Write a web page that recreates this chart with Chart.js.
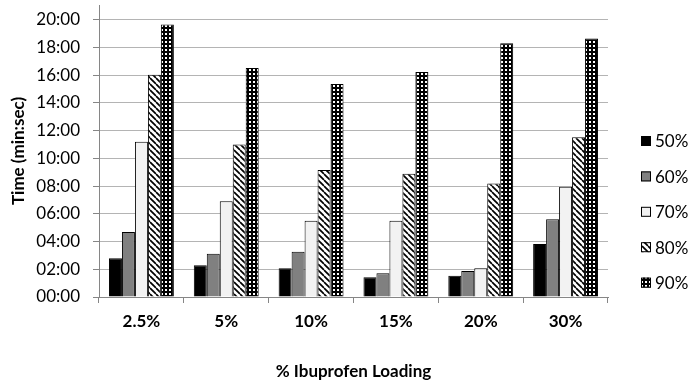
<!DOCTYPE html>
<html>
<head>
<meta charset="utf-8">
<script src="https://cdn.jsdelivr.net/npm/chart.js@4.4.1/dist/chart.umd.min.js"></script>
<style>
  html, body { margin: 0; padding: 0; background: #ffffff; }
  #wrap { width: 694px; height: 385px; }
</style>
</head>
<body>
<div id="wrap"><canvas id="chart" width="694" height="385"></canvas></div>
<script>
// Ibuprofen loading levels on the category axis
const categories = ['2.5%', '5%', '10%', '15%', '20%', '30%'];

// Series names (legend)
const seriesNames = ['50%', '60%', '70%', '80%', '90%'];

// Times in minutes for each series, one value per loading level
const time50 = [2.80, 2.28, 2.07, 1.42, 1.53, 3.82];
const time60 = [4.69, 3.12, 3.27, 1.72, 1.88, 5.60];
const time70 = [11.20, 6.90, 5.49, 5.49, 2.08, 7.95];
const time80 = [16.03, 11.00, 9.15, 8.88, 8.18, 11.52];
const time90 = [19.64, 16.50, 15.35, 16.22, 18.30, 18.63];

// Y axis tick values (minutes)
const yTicks = [0, 2, 4, 6, 8, 10, 12, 14, 16, 18, 20];

const FONT = 'Lato, "Open Sans", "Liberation Sans", sans-serif';

function tile(w, h, paint) {
  const c = document.createElement('canvas');
  c.width = w; c.height = h;
  const g = c.getContext('2d');
  paint(g, w, h);
  return document.createElement('canvas').getContext('2d').createPattern(c, 'repeat');
}

// Diagonal "\" hatch on white
const hatch = tile(6, 6, (g, w, h) => {
  g.fillStyle = '#ffffff';
  g.fillRect(0, 0, w, h);
  g.strokeStyle = '#000000';
  g.lineWidth = 1.7;
  for (let x = -w; x <= w; x += w) {
    g.beginPath();
    g.moveTo(x, 0);
    g.lineTo(x + w, h);
    g.stroke();
  }
});

// Black with small white squares
const grid = tile(4, 4, (g, w, h) => {
  g.fillStyle = '#000000';
  g.fillRect(0, 0, w, h);
  g.fillStyle = '#ffffff';
  g.fillRect(1, 1, 2, 2);
});

const fills = ['#000000', '#808080', '#f2f2f2', hatch, grid];
const values = [time50, time60, time70, time80, time90];

const datasets = seriesNames.map((name, i) => ({
  label: name,
  data: values[i],
  backgroundColor: fills[i],
  borderColor: '#000000',
  borderWidth: 1,
  borderSkipped: 'bottom',
  barPercentage: 1.0,
  categoryPercentage: 0.765
}));

function fmtTime(v) {
  const m = Math.floor(v + 1e-9);
  const s = Math.round((v - m) * 60);
  return String(m).padStart(2, '0') + ':' + String(s).padStart(2, '0');
}

// Legend drawn at the right of the plot
const sideLegend = {
  id: 'sideLegend',
  afterDraw(chart) {
    const ctx = chart.ctx;
    ctx.save();
    ctx.font = '17px ' + FONT;
    ctx.textBaseline = 'middle';
    ctx.textAlign = 'left';
    chart.data.datasets.forEach((ds, i) => {
      const cy = 141 + i * 35.4;
      const bx = 641, size = 10;
      ctx.fillStyle = ds.backgroundColor;
      ctx.fillRect(bx, cy - size / 2, size, size);
      ctx.strokeStyle = '#000000';
      ctx.lineWidth = 1;
      ctx.strokeRect(bx + 0.5, cy - size / 2 + 0.5, size - 1, size - 1);
      ctx.fillStyle = '#000000';
      ctx.fillText(ds.label, 655, cy + 1);
    });
    ctx.restore();
  }
};

new Chart(document.getElementById('chart'), {
  type: 'bar',
  data: { labels: categories, datasets: datasets },
  plugins: [sideLegend],
  options: {
    responsive: false,
    devicePixelRatio: 1,
    animation: false,
    layout: { padding: { top: 5, right: 86, left: 0, bottom: 0 } },
    plugins: {
      legend: { display: false },
      tooltip: { enabled: false }
    },
    scales: {
      x: {
        offset: true,
        grid: {
          offset: true,
          drawOnChartArea: false,
          drawTicks: true,
          tickLength: 6,
          tickColor: '#868686',
          lineWidth: 1
        },
        border: { color: '#868686', width: 1 },
        ticks: {
          color: '#000000',
          font: { family: FONT, size: 17, weight: 'bold' },
          padding: 8,
          maxRotation: 0
        },
        title: {
          display: true,
          text: '% Ibuprofen Loading',
          color: '#000000',
          font: { family: FONT, size: 17, weight: 'bold' },
          padding: { top: 0, bottom: 3 }
        },
        afterFit(scale) {
          scale.height = 88;
          scale.paddingLeft = 0;
          scale.paddingRight = 0;
        }
      },
      y: {
        min: 0,
        max: 21.05,
        grid: {
          color: '#b4b4b4',
          tickColor: '#868686',
          tickLength: 6,
          lineWidth: 1
        },
        border: { color: '#868686', width: 1 },
        ticks: {
          color: '#000000',
          font: { family: FONT, size: 17 },
          padding: 13,
          stepSize: 2,
          callback: (v) => fmtTime(v)
        },
        afterBuildTicks(scale) {
          scale.ticks = yTicks.map(v => ({ value: v }));
        },
        title: {
          display: true,
          text: 'Time (min:sec)',
          color: '#000000',
          font: { family: FONT, size: 17, weight: 'bold' },
          padding: { top: 8, bottom: 0 }
        },
        afterFit(scale) {
          scale.width = 99;
          scale.paddingTop = 0;
          scale.paddingBottom = 0;
        }
      }
    }
  }
});
</script>
</body>
</html>
